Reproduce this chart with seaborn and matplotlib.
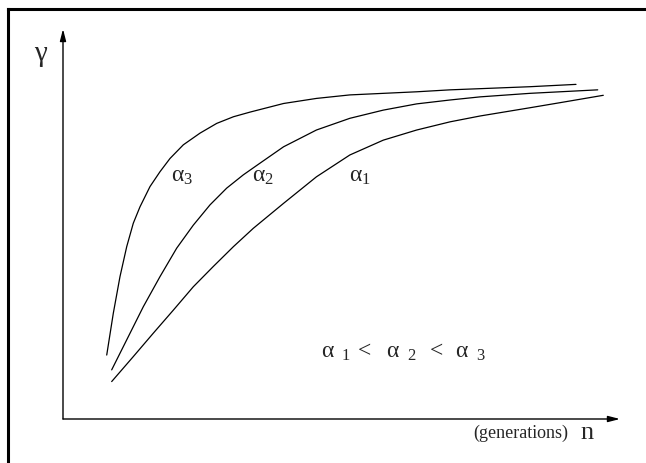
import numpy as np
import pandas as pd
import matplotlib
matplotlib.use("Agg")
import matplotlib.pyplot as plt
from matplotlib.lines import Line2D
import seaborn as sns

# values (n in arbitrary generation units, gamma 0..1)
n_a3 = [7.85, 9.03, 10.23, 11.44, 12.62, 13.82, 15.62, 17.41, 19.21, 21.6, 24.6, 27.6,
        30.6, 33.6, 39.6, 45.5, 51.5, 57.5, 63.5, 69.5, 74.9, 83.8, 92.1]
g_a3 = [0.164, 0.271, 0.365, 0.442, 0.502, 0.544, 0.596, 0.634, 0.668, 0.703, 0.733, 0.758,
        0.775, 0.787, 0.809, 0.822, 0.831, 0.835, 0.839, 0.844, 0.847, 0.852, 0.858]

n_a2 = [8.74, 11.44, 14.42, 17.41, 20.41, 23.39, 26.39, 29.39, 32.37, 35.37, 39.6, 45.5,
        51.5, 57.5, 63.5, 69.5, 74.9, 83.8, 96.0]
g_a2 = [0.126, 0.203, 0.288, 0.365, 0.438, 0.497, 0.549, 0.592, 0.626, 0.656, 0.698, 0.741,
        0.771, 0.792, 0.808, 0.818, 0.826, 0.835, 0.844]

n_a1 = [8.74, 12.62, 16.21, 19.8, 23.39, 26.98, 30.6, 34.17, 39.6, 45.5, 51.5, 57.5,
        63.5, 69.5, 74.9, 83.8, 89.2, 97.0]
g_a1 = [0.096, 0.160, 0.220, 0.279, 0.339, 0.391, 0.442, 0.489, 0.553, 0.621, 0.677, 0.715,
        0.741, 0.762, 0.777, 0.798, 0.811, 0.830]

curve_labels = [r"$\alpha_3$", r"$\alpha_2$", r"$\alpha_1$"]
label_x = [19.4, 33.9, 51.3]


def build_frame():
    parts = []
    for name, n, g in [("a3", n_a3, g_a3), ("a2", n_a2, g_a2), ("a1", n_a1, g_a1)]:
        parts.append(pd.DataFrame({"n": n, "gamma": g, "curve": name}))
    return pd.concat(parts, ignore_index=True)


def main():
    sns.set_style("white")
    plt.rcParams["font.family"] = ["Liberation Serif", "DejaVu Serif"]
    plt.rcParams["mathtext.fontset"] = "custom"
    plt.rcParams["mathtext.rm"] = "Liberation Serif"
    plt.rcParams["mathtext.it"] = "Liberation Serif"

    df = build_frame()

    W, H = 646, 463
    fig = plt.figure(figsize=(W / 100, H / 100), dpi=100)
    ax = fig.add_axes([63 / W, (H - 419) / H, (620 - 63) / W, (419 - 29) / H])

    sns.lineplot(data=df, x="n", y="gamma", units="curve", estimator=None,
                 color="black", lw=0.9, sort=False, ax=ax)

    ax.set_xlim(0, 100)
    ax.set_ylim(0, 1)
    ax.set_xticks([])
    ax.set_yticks([])
    ax.set_xlabel("")
    ax.set_ylabel("")
    for s in ax.spines.values():
        s.set_visible(False)

    # axes with arrowheads
    arrow = dict(arrowstyle="-|>,head_length=0.7,head_width=0.18", color="black",
                 lw=1.0, shrinkA=0, shrinkB=0)
    ax.annotate("", xy=(1, 0), xytext=(0, 0), xycoords="axes fraction", arrowprops=arrow)
    ax.annotate("", xy=(0, 1), xytext=(0, 0), xycoords="axes fraction", arrowprops=arrow)

    # curve labels
    for lab, x in zip(curve_labels, label_x):
        ax.text(x, 0.608, lab, fontsize=17, ha="left", va="baseline")

    ax.text(46.4, 0.158,
            r"$\alpha_{\ \ 1}\,<\ \ \alpha_{\ \ 2}\ \,<\ \,\alpha_{\ \ 3}$",
            fontsize=17, ha="left", va="baseline")

    ax.text(-3.95, 0.93, r"$\gamma$", fontsize=21, ha="center", va="center", clip_on=False)
    ax.text(73.6, -0.038, "(generations)", fontsize=13, ha="left", va="center", clip_on=False)
    ax.text(94.1, -0.036, "n", fontsize=19, ha="center", va="center", clip_on=False)

    # page frame (left and top edges)
    fig.add_artist(Line2D([8 / W, 8 / W], [0, 1 - 9 / H], color="black", lw=2.2,
                          transform=fig.transFigure, solid_capstyle="projecting"))
    fig.add_artist(Line2D([8 / W, 1], [1 - 9 / H, 1 - 9 / H], color="black", lw=2.2,
                          transform=fig.transFigure, solid_capstyle="projecting"))

    fig.savefig("out.png", dpi=100)
    plt.close(fig)


if __name__ == "__main__":
    main()
